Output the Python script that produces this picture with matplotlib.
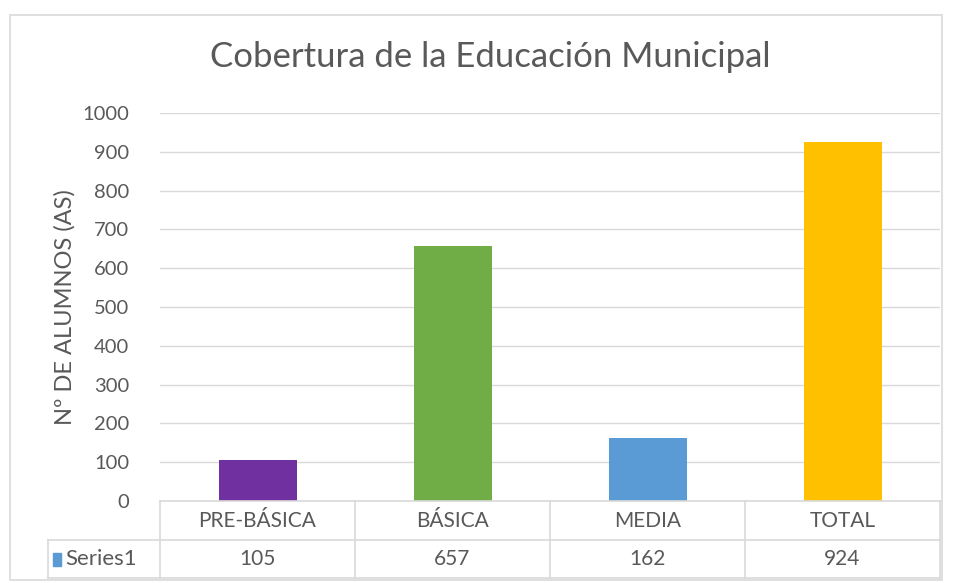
import matplotlib.pyplot as plt
from matplotlib.patches import Rectangle
from matplotlib.lines import Line2D

categories = ["PRE-BÁSICA", "BÁSICA", "MEDIA", "TOTAL"]
values = [105, 657, 162, 924]
colors = ["#7030A0", "#70AD47", "#5B9BD5", "#FFC000"]
series_name = "Series1"
yticks = list(range(0, 1001, 100))

plt.rcParams['font.family'] = ['Lato', 'DejaVu Sans']
text_col = "#595959"
grid_col = "#D9D9D9"

W, H = 956, 583
fig = plt.figure(figsize=(W / 100, H / 100), dpi=100)

def fx(px):
    return px / W

def fy(py):
    return 1 - py / H

ax = fig.add_axes([fx(160), fy(501), fx(940) - fx(160), fy(113) - fy(501)])
x = range(len(categories))
ax.bar(x, values, width=0.4, color=colors, zorder=3)
ax.set_xlim(-0.5, len(categories) - 0.5)
ax.set_ylim(0, 1000)
ax.set_yticks(yticks)
ax.set_yticklabels([str(t) for t in yticks], fontsize=14.5, color=text_col)
ax.set_xticks([])
ax.tick_params(axis='y', length=0, pad=22)
ax.grid(axis='y', color=grid_col, linewidth=1, zorder=0)
for s in ax.spines.values():
    s.set_visible(False)
ax.set_ylabel("Nº DE ALUMNOS (AS)", fontsize=17, color=text_col, labelpad=5)

fig.suptitle("Cobertura de la Educación Municipal", x=fx(490), y=fy(57),
             va='center', fontsize=25, color=text_col)

# data table below the axis
def hline(y, x0, x1):
    fig.add_artist(Line2D([fx(x0), fx(x1)], [fy(y), fy(y)], color=grid_col, lw=1.2))

def vline(xp, y0, y1):
    fig.add_artist(Line2D([fx(xp), fx(xp)], [fy(y0), fy(y1)], color=grid_col, lw=1.2))

col_edges = [160 + 195 * i for i in range(len(categories) + 1)]
hline(501, 160, 940)
hline(540, 48, 940)
hline(578, 48, 940)
for xe in col_edges:
    vline(xe, 501, 578)
vline(48, 540, 578)

for i, (cat, val) in enumerate(zip(categories, values)):
    cx = (col_edges[i] + col_edges[i + 1]) / 2
    fig.text(fx(cx), fy(521), cat, ha='center', va='center', fontsize=15, color=text_col)
    fig.text(fx(cx), fy(559), str(val), ha='center', va='center', fontsize=15, color=text_col)

fig.add_artist(Rectangle((fx(53), fy(566)), fx(8), fy(553) - fy(566),
                         color="#5B9BD5", transform=fig.transFigure))
fig.text(fx(65), fy(559), series_name, ha='left', va='center', fontsize=16, color=text_col)

# chart border
fig.add_artist(Rectangle((fx(10), fy(580)), fx(942) - fx(10), fy(15) - fy(580),
                         fill=False, edgecolor="#D9D9D9", lw=1.2, transform=fig.transFigure))

fig.savefig("out.png", dpi=100)
